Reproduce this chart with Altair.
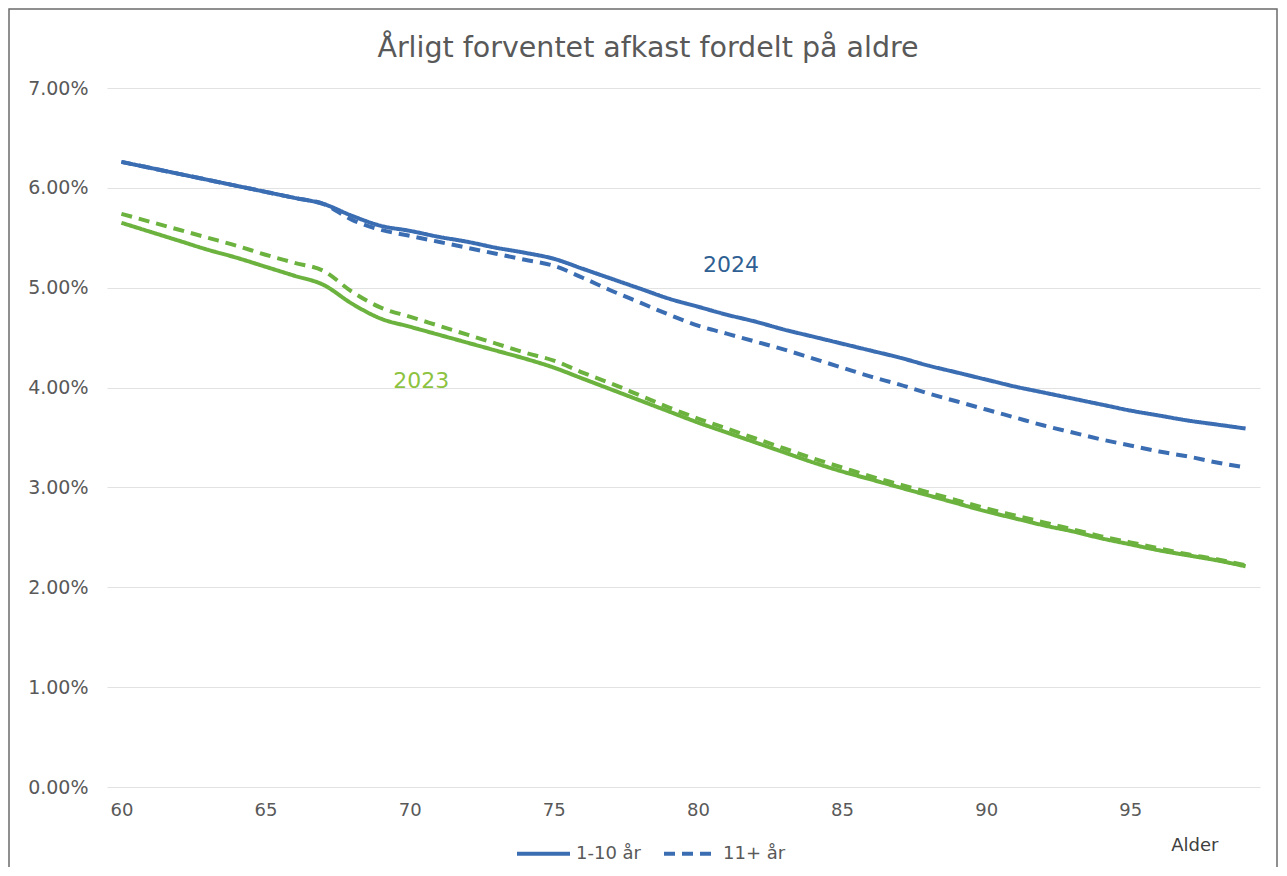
import altair as alt
import pandas as pd

# ---- data (percent) ----
ages = list(range(60, 100))

y2024_short = [6.26, 6.20, 6.14, 6.08, 6.02, 5.96, 5.90, 5.84, 5.72, 5.62,
               5.57, 5.51, 5.46, 5.40, 5.35, 5.29, 5.19, 5.09, 4.99, 4.89,
               4.81, 4.73, 4.66, 4.58, 4.51, 4.44, 4.37, 4.30, 4.22, 4.15,
               4.08, 4.01, 3.95, 3.89, 3.83, 3.77, 3.72, 3.67, 3.63, 3.59]

y2024_long = [6.26, 6.20, 6.14, 6.08, 6.02, 5.96, 5.90, 5.84, 5.68, 5.58,
              5.52, 5.46, 5.40, 5.34, 5.28, 5.22, 5.10, 4.97, 4.85, 4.73,
              4.62, 4.54, 4.46, 4.38, 4.29, 4.20, 4.11, 4.03, 3.94, 3.86,
              3.78, 3.70, 3.62, 3.55, 3.48, 3.42, 3.36, 3.31, 3.25, 3.20]

y2023_short = [5.65, 5.56, 5.47, 5.38, 5.30, 5.21, 5.12, 5.03, 4.84, 4.69,
               4.61, 4.53, 4.45, 4.37, 4.29, 4.20, 4.09, 3.98, 3.87, 3.76,
               3.65, 3.55, 3.45, 3.35, 3.25, 3.16, 3.08, 3.00, 2.92, 2.84,
               2.76, 2.69, 2.62, 2.56, 2.49, 2.43, 2.37, 2.32, 2.27, 2.21]

y2023_long = [5.74, 5.66, 5.58, 5.50, 5.42, 5.33, 5.25, 5.17, 4.96, 4.80,
              4.71, 4.62, 4.53, 4.44, 4.35, 4.27, 4.15, 4.04, 3.92, 3.80,
              3.69, 3.59, 3.49, 3.39, 3.29, 3.20, 3.11, 3.03, 2.95, 2.87,
              2.79, 2.72, 2.65, 2.58, 2.51, 2.45, 2.39, 2.33, 2.28, 2.22]

series_types = ["1-10 år", "11+ år"]
years = ["2024", "2023"]
x_ticks = [60, 65, 70, 75, 80, 85, 90, 95]
y_ticks = [0.0, 0.01, 0.02, 0.03, 0.04, 0.05, 0.06, 0.07]

label_years = ["2024", "2023"]
label_ages = [81.15, 70.4]
label_values = [5.23, 4.07]

title_text = "Årligt forventet afkast fordelt på aldre"
x_title = "Alder"

# ---- build table ----
rows = []
for yr, typ, vals in [("2024", series_types[0], y2024_short),
                      ("2024", series_types[1], y2024_long),
                      ("2023", series_types[0], y2023_short),
                      ("2023", series_types[1], y2023_long)]:
    for a, v in zip(ages, vals):
        rows.append({"age": a, "value": v / 100.0, "year": yr, "type": typ})
df = pd.DataFrame(rows)

lab_df = pd.DataFrame({"age": label_ages,
                       "value": [v / 100.0 for v in label_values],
                       "text": label_years})

BLUE = "#3B6DB3"
GREEN = "#6BB23E"
TXT = "#595959"
FONT = "DejaVu Sans"

x_enc = alt.X("age:Q",
              scale=alt.Scale(domain=[59.5, 99.5], nice=False, zero=False),
              axis=alt.Axis(values=x_ticks, title=x_title, grid=False, domain=False,
                            ticks=False, labelFontSize=18, labelColor=TXT,
                            labelPadding=14, labelFont=FONT,
                            titleX=1111, titleY=58, titleAlign="right",
                            titleBaseline="middle", titleFontSize=18,
                            titleFontWeight="normal", titleColor="#404040",
                            titleFont=FONT))
y_enc = alt.Y("value:Q",
              scale=alt.Scale(domain=[0, 0.07], nice=False, zero=True),
              axis=alt.Axis(values=y_ticks, format=".2%", title=None, domain=False,
                            ticks=False, gridColor="#e2e2e2", gridWidth=1,
                            labelFontSize=19, labelColor=TXT, labelPadding=19,
                            labelFont=FONT))

lines = alt.Chart(df).mark_line(strokeWidth=4, interpolate="monotone").encode(
    x=x_enc,
    y=y_enc,
    color=alt.Color("year:N", scale=alt.Scale(domain=years, range=[BLUE, GREEN]),
                    legend=None),
    strokeDash=alt.StrokeDash(
        "type:N",
        scale=alt.Scale(domain=series_types, range=[[1, 0], [11, 7]]),
        legend=alt.Legend(title=None, orient="none", legendX=408, legendY=737,
                          direction="horizontal", symbolType="stroke",
                          symbolSize=2809, symbolStrokeWidth=4,
                          symbolStrokeColor=BLUE, labelFontSize=18,
                          labelColor=TXT, labelFont=FONT, columnPadding=14,
                          labelOffset=4)),
    detail="type:N",
)

lab24 = alt.Chart(lab_df).transform_filter(alt.datum.text == "2024").mark_text(
    fontSize=22, font=FONT, color="#2F5F93", align="center", baseline="middle"
).encode(x="age:Q", y="value:Q", text="text:N")

lab23 = alt.Chart(lab_df).transform_filter(alt.datum.text == "2023").mark_text(
    fontSize=22, font=FONT, color="#8DC33F", align="center", baseline="middle"
).encode(x="age:Q", y="value:Q", text="text:N")

title_mark = alt.Chart(pd.DataFrame({"t": [title_text]})).mark_text(
    fontSize=28.5, font=FONT, color=TXT, align="center", baseline="alphabetic"
).encode(x=alt.value(541), y=alt.value(-31), text="t:N")

frame = alt.Chart(pd.DataFrame({"k": [0]})).mark_rect(
    fillOpacity=0, stroke="#6b6b6b", strokeWidth=1.5
).encode(x=alt.value(-98), x2=alt.value(1170), y=alt.value(-79), y2=alt.value(800))

chart = alt.layer(frame, lines, lab24, lab23, title_mark).properties(
    width=1153, height=699,
    padding={"left": 99, "top": 80, "right": 18, "bottom": 80},
    autosize=alt.AutoSizeParams(type="none"),
).configure(font=FONT, background="white").configure_view(stroke=None, strokeWidth=0)

chart.save("out.html", embed_options={"renderer": "svg", "actions": False})
